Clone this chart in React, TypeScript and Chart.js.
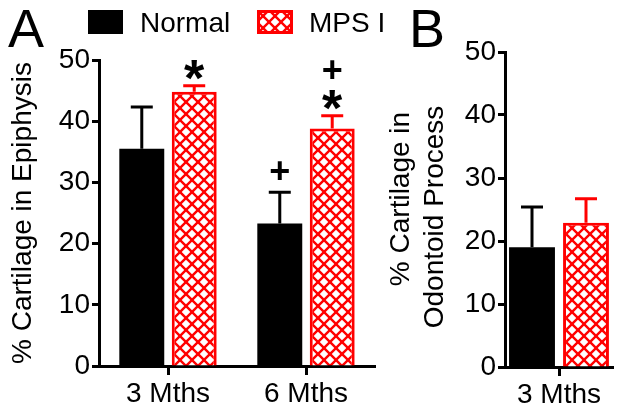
import React, { useEffect, useRef } from 'react';
import { Chart, registerables } from 'chart.js';
Chart.register(...registerables);

const FONT = "'Liberation Sans', Arial, Helvetica, sans-serif";
const RED = '#ff0000';

const seriesNames = ['Normal', 'MPS I'];
const categoriesA = ['3 Mths', '6 Mths'];
const normalA = [35.5, 23.3];
const normalErrA = [6.8, 5.1];
const mpsA = [44.8, 38.8];
const mpsErrA = [1.0, 2.1];
const normalMarksA = ['', '+'];
const mpsMarksA = ['*', '*+'];

const categoriesB = ['3 Mths'];
const normalB = [19.0];
const normalErrB = [6.4];
const mpsB = [22.9];
const mpsErrB = [3.8];
const normalMarksB = [''];
const mpsMarksB = [''];

const yMin = 0;
const yMax = 50;
const yStep = 10;
const titleA = '% Cartilage in Epiphysis';
const titleB = ['% Cartilage in', 'Odontoid Process'];

function makeHatch(ctx: CanvasRenderingContext2D) {
  const s = 12;
  const c = document.createElement('canvas');
  c.width = s;
  c.height = s;
  const g = c.getContext('2d')!;
  g.fillStyle = '#ffffff';
  g.fillRect(0, 0, s, s);
  g.strokeStyle = RED;
  g.lineWidth = 2.4;
  for (const o of [-s, 0, s]) {
    g.beginPath();
    g.moveTo(o - 2, -2);
    g.lineTo(o + s + 2, s + 2);
    g.stroke();
    g.beginPath();
    g.moveTo(o + s + 2, -2);
    g.lineTo(o - 2, s + 2);
    g.stroke();
  }
  return ctx.createPattern(c, 'repeat')!;
}

const errorBarPlugin = {
  id: 'errorBars',
  afterDatasetsDraw(chart: any) {
    const ctx = chart.ctx as CanvasRenderingContext2D;
    const yScale = chart.scales.y;
    chart.data.datasets.forEach((ds: any, i: number) => {
      const meta = chart.getDatasetMeta(i);
      meta.data.forEach((el: any, j: number) => {
        const v = ds.data[j];
        const e = ds.errors[j];
        const yTop = yScale.getPixelForValue(v + e);
        ctx.save();
        ctx.strokeStyle = ds.errorColor;
        ctx.lineWidth = 3;
        ctx.beginPath();
        ctx.moveTo(el.x, el.y);
        ctx.lineTo(el.x, yTop);
        ctx.moveTo(el.x - 11, yTop);
        ctx.lineTo(el.x + 11, yTop);
        ctx.stroke();
        const marks: string = (ds.marks && ds.marks[j]) || '';
        ctx.fillStyle = '#000';
        ctx.textAlign = 'center';
        [...marks].forEach((m, k) => {
          const cy = yTop - 19 - 25 * k;
          if (m === '*') {
            const size = 52;
            ctx.font = `bold ${size}px ${FONT}`;
            ctx.textBaseline = 'alphabetic';
            ctx.fillText('*', el.x, cy + 0.57 * size);
          } else {
            ctx.font = `bold 36px ${FONT}`;
            ctx.textBaseline = 'middle';
            ctx.fillText(m, el.x, cy);
          }
        });
        ctx.restore();
      });
    });
  },
};

const sideTitlePlugin = {
  id: 'sideTitle',
  afterDraw(chart: any, _args: any, opts: any) {
    if (!opts || !opts.lines) return;
    const ctx = chart.ctx as CanvasRenderingContext2D;
    opts.lines.forEach((t: string, k: number) => {
      ctx.save();
      ctx.translate(opts.x[k], opts.y[k]);
      ctx.rotate(-Math.PI / 2);
      ctx.font = `28px ${FONT}`;
      ctx.textAlign = 'center';
      ctx.textBaseline = 'middle';
      ctx.fillStyle = '#000';
      ctx.fillText(t, 0, 0);
      ctx.restore();
    });
  },
};

function buildConfig(opts: {
  ctx: CanvasRenderingContext2D;
  labels: string[];
  normal: number[];
  normalErr: number[];
  normalMarks: string[];
  mps: number[];
  mpsErr: number[];
  mpsMarks: string[];
  padding: any;
  yWidth: number;
  xHeight: number;
  catPct: number;
  barPct: number;
  title: string | null;
  sideTitle: any;
}): any {
  const hatch = makeHatch(opts.ctx);
  return {
    type: 'bar',
    data: {
      labels: opts.labels,
      datasets: [
        {
          label: seriesNames[0],
          data: opts.normal,
          errors: opts.normalErr,
          marks: opts.normalMarks,
          errorColor: '#000',
          backgroundColor: '#000',
          borderWidth: 0,
          categoryPercentage: opts.catPct,
          barPercentage: opts.barPct,
        },
        {
          label: seriesNames[1],
          data: opts.mps,
          errors: opts.mpsErr,
          marks: opts.mpsMarks,
          errorColor: RED,
          backgroundColor: hatch,
          borderColor: RED,
          borderWidth: 3,
          borderSkipped: 'start',
          categoryPercentage: opts.catPct,
          barPercentage: opts.barPct,
        },
      ],
    },
    options: {
      responsive: false,
      devicePixelRatio: 1,
      animation: false,
      layout: { padding: opts.padding },
      plugins: {
        legend: { display: false },
        tooltip: { enabled: false },
        sideTitle: opts.sideTitle,
      },
      scales: {
        x: {
          type: 'category',
          offset: true,
          z: 1,
          grid: {
            display: true,
            offset: false,
            drawOnChartArea: false,
            drawTicks: true,
            tickLength: 9,
            tickWidth: 3,
            tickColor: '#000',
          },
          border: { display: true, color: '#000', width: 3 },
          ticks: {
            color: '#000',
            font: { family: FONT, size: 28, lineHeight: 1.2 },
            padding: 2,
            maxRotation: 0,
            minRotation: 0,
          },
          afterFit: (s: any) => {
            s.height = opts.xHeight;
          },
        },
        y: {
          min: yMin,
          max: yMax,
          z: 1,
          grid: {
            display: true,
            drawOnChartArea: false,
            drawTicks: true,
            tickLength: 7,
            tickWidth: 3,
            tickColor: '#000',
          },
          border: { display: true, color: '#000', width: 3 },
          ticks: {
            stepSize: yStep,
            color: '#000',
            font: { family: FONT, size: 28 },
            padding: 2,
          },
          title: {
            display: !!opts.title,
            text: opts.title || '',
            color: '#000',
            font: { family: FONT, size: 28, lineHeight: 1.2 },
            padding: { top: 6, bottom: 0 },
          },
          afterFit: (s: any) => {
            s.width = opts.yWidth;
          },
        },
      },
    },
    plugins: [errorBarPlugin, sideTitlePlugin],
  };
}

export default function App() {
  const refA = useRef<HTMLCanvasElement>(null);
  const refB = useRef<HTMLCanvasElement>(null);
  const refLeg = useRef<HTMLCanvasElement>(null);

  useEffect(() => {
    const ctxA = refA.current!.getContext('2d')!;
    const ctxB = refB.current!.getContext('2d')!;
    const chartA = new Chart(
      ctxA,
      buildConfig({
        ctx: ctxA,
        labels: categoriesA,
        normal: normalA,
        normalErr: normalErrA,
        normalMarks: normalMarksA,
        mps: mpsA,
        mpsErr: mpsErrA,
        mpsMarks: mpsMarksA,
        padding: { left: 0, top: 60, right: 17, bottom: 0 },
        yWidth: 99,
        xHeight: 47,
        catPct: 0.76,
        barPct: 0.857,
        title: titleA,
        sideTitle: {},
      })
    );
    const chartB = new Chart(
      ctxB,
      buildConfig({
        ctx: ctxB,
        labels: categoriesB,
        normal: normalB,
        normalErr: normalErrB,
        normalMarks: normalMarksB,
        mps: mpsB,
        mpsErr: mpsErrB,
        mpsMarks: mpsMarksB,
        padding: { left: 0, top: 52, right: 11, bottom: 0 },
        yWidth: 125,
        xHeight: 46,
        catPct: 1.0,
        barPct: 0.85,
        title: null,
        sideTitle: { lines: titleB, x: [21, 55], y: [199, 217] },
      })
    );
    const lc = refLeg.current!.getContext('2d')!;
    lc.fillStyle = makeHatch(lc);
    lc.fillRect(0, 0, 36, 24);
    lc.strokeStyle = RED;
    lc.lineWidth = 3;
    lc.strokeRect(1.5, 1.5, 33, 21);
    return () => {
      chartA.destroy();
      chartB.destroy();
    };
  }, []);

  const textStyle: React.CSSProperties = {
    position: 'absolute',
    fontFamily: FONT,
    fontSize: 28,
    lineHeight: '28px',
    color: '#000',
    whiteSpace: 'nowrap',
  };
  const bigStyle: React.CSSProperties = {
    position: 'absolute',
    fontFamily: FONT,
    fontSize: 54,
    lineHeight: '54px',
    color: '#000',
  };

  return (
    <div
      style={{
        position: 'absolute',
        left: 0,
        top: 0,
        width: 624,
        height: 413,
        background: '#fff',
        overflow: 'hidden',
      }}
    >
      <canvas
        ref={refA}
        width={392}
        height={413}
        style={{ position: 'absolute', left: 0, top: 0, width: 392, height: 413 }}
      />
      <canvas
        ref={refB}
        width={244}
        height={413}
        style={{ position: 'absolute', left: 380, top: 0, width: 244, height: 413 }}
      />
      <div style={{ ...bigStyle, left: 8, top: 1 }}>A</div>
      <div style={{ ...bigStyle, left: 409, top: 1 }}>B</div>
      <div
        style={{ position: 'absolute', left: 88, top: 10, width: 35, height: 24, background: '#000' }}
      />
      <div style={{ ...textStyle, left: 140, top: 9 }}>{seriesNames[0]}</div>
      <canvas
        ref={refLeg}
        width={36}
        height={24}
        style={{ position: 'absolute', left: 257, top: 10, width: 36, height: 24 }}
      />
      <div style={{ ...textStyle, left: 309, top: 9 }}>{seriesNames[1]}</div>
    </div>
  );
}
